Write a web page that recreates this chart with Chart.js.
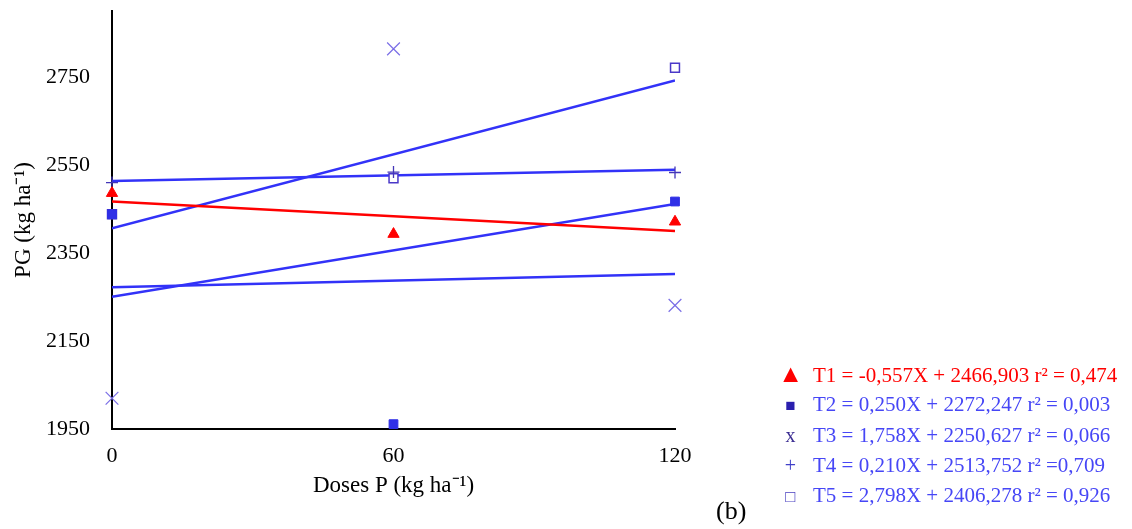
<!DOCTYPE html>
<html>
<head>
<meta charset="utf-8">
<script src="https://cdn.jsdelivr.net/npm/chart.js@4/dist/chart.umd.min.js"></script>
<style>
  html, body { margin: 0; padding: 0; background: #fff; }
  #wrap { position: relative; width: 1132px; height: 529px; }
  #legend {
    position: absolute; left: 768px; top: 359px;
    font-family: 'Liberation Serif', 'Times New Roman', serif; font-size: 21px;
  }
  #legend .row { height: 30.3px; line-height: 30.3px; white-space: nowrap; }
  #legend .mk { display: inline-block; width: 45px; text-align: center; }
  #tag {
    position: absolute; left: 716px; top: 496px;
    font-family: 'Liberation Serif', 'Times New Roman', serif; font-size: 26px; color: #000;
  }
</style>
</head>
<body>
<div id="wrap">
  <canvas id="chart" width="1132" height="529"></canvas>
  <div id="legend"></div>
  <div id="tag">(b)</div>
</div>
<script>
// Doses of P (kg/ha) and grain yield PG (kg/ha) per treatment
const doses = [0, 60, 120];
const t1 = [2486, 2393, 2421];
const t2 = [2438, 1961, 2467];
const t3 = [2020, 2814, 2231];
const t4 = [2510, 2534, 2533];
const t5 = [2438, 2520, 2771];

// fitted regressions: slope, intercept, r²
const names = ['T1', 'T2', 'T3', 'T4', 'T5'];
const slopes = ['-0,557', '0,250', '1,758', '0,210', '2,798'];
const intercepts = ['2466,903', '2272,247', '2250,627', '2513,752', '2406,278'];
const r2 = ['= 0,474', '= 0,003', '= 0,066', '=0,709', '= 0,926'];

const xTicks = [0, 60, 120];
const yTicks = [1950, 2150, 2350, 2550, 2750];

const serif = "'Liberation Serif', 'Times New Roman', serif";
const lineBlue = '#3232f8';

const num = s => parseFloat(s.replace(',', '.'));
const pts = ys => doses.map((x, i) => ({ x: x, y: ys[i] }));
const fitLine = i => [doses[0], doses[doses.length - 1]].map(x => ({ x: x, y: num(slopes[i]) * x + num(intercepts[i]) }));

const series = [
  { ys: t1, style: 'triangle', r: 6.5, fill: '#ff0000', stroke: '#ff0000', bw: 1, line: '#ff0000' },
  { ys: t2, style: 'rect', r: 6.2, fill: '#2f2fe6', stroke: '#2f2fe6', bw: 1, line: lineBlue },
  { ys: t3, style: 'crossRot', r: 9, fill: 'transparent', stroke: '#7a6ee6', bw: 1.2, line: lineBlue },
  { ys: t4, style: 'cross', r: 6, fill: 'transparent', stroke: '#4336b8', bw: 1.3, line: lineBlue },
  { ys: t5, style: 'rect', r: 6.3, fill: '#ffffff', stroke: '#4a38c8', bw: 1.5, line: lineBlue }
];

const datasets = [];
series.forEach((s, i) => {
  datasets.push({
    label: names[i], data: pts(s.ys), showLine: false, clip: false,
    pointStyle: s.style, pointRadius: s.r, pointBackgroundColor: s.fill,
    pointBorderColor: s.stroke, pointBorderWidth: s.bw, order: 1
  });
});
series.forEach((s, i) => {
  datasets.push({
    label: names[i] + ' fit', data: fitLine(i), showLine: true,
    borderColor: s.line, borderWidth: 2.5, pointRadius: 0, order: 2
  });
});

const tickFont = { family: serif, size: 22 };
const titleFont = { family: serif, size: 23 };

new Chart(document.getElementById('chart'), {
  type: 'scatter',
  data: { datasets: datasets },
  options: {
    responsive: false,
    animation: false,
    layout: { padding: { left: 0, right: 457, top: 11, bottom: 0 } },
    plugins: { legend: { display: false }, tooltip: { enabled: false } },
    scales: {
      x: {
        type: 'linear', min: 0, max: 120,
        afterBuildTicks: s => { s.ticks = xTicks.map(v => ({ value: v })); },
        afterFit: s => { s.height = 100; s.paddingLeft = 0; s.paddingRight = 0; },
        grid: { display: false, drawTicks: false },
        border: { color: '#000', width: 2 },
        ticks: { color: '#000', font: tickFont, padding: 14, callback: v => String(v) },
        title: {
          display: true, text: 'Doses P (kg ha⁻¹)', color: '#000',
          font: titleFont, padding: { top: 0, bottom: 29 }
        }
      },
      y: {
        type: 'linear', min: 1950, max: 2900,
        afterBuildTicks: s => { s.ticks = yTicks.map(v => ({ value: v })); },
        afterFit: s => { s.width = 112; s.paddingTop = 0; s.paddingBottom = 0; },
        grid: { display: false, drawTicks: false },
        border: { color: '#000', width: 2 },
        ticks: { color: '#000', font: tickFont, padding: 22, callback: v => String(v) },
        title: {
          display: true, text: 'PG (kg ha⁻¹)', color: '#000',
          font: titleFont, padding: { top: 10, bottom: 0 }
        }
      }
    }
  }
});

// equation legend on the lower right
const marks = [
  { ch: '▲', color: '#ff0000', size: '25px' },
  { ch: '■', color: '#2a1fae', size: '17px' },
  { ch: 'x', color: '#3b2d92', size: '20px' },
  { ch: '+', color: '#4040c8', size: '20px' },
  { ch: '□', color: '#4a40c0', size: '17px' }
];
const legend = document.getElementById('legend');
names.forEach((n, i) => {
  const row = document.createElement('div');
  row.className = 'row';
  const mk = document.createElement('span');
  mk.className = 'mk';
  mk.textContent = marks[i].ch;
  mk.style.color = marks[i].color;
  mk.style.fontSize = marks[i].size;
  const txt = document.createElement('span');
  txt.textContent = n + ' = ' + slopes[i] + 'X + ' + intercepts[i] + ' r² ' + r2[i];
  txt.style.color = i === 0 ? '#ff0000' : '#4646f6';
  row.appendChild(mk);
  row.appendChild(txt);
  legend.appendChild(row);
});
</script>
</body>
</html>
